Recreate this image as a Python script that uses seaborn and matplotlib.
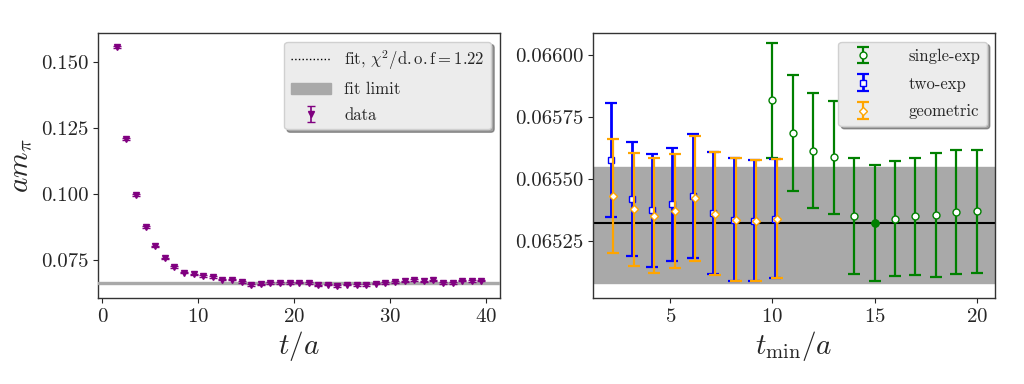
import numpy as np
import pandas as pd
import matplotlib
matplotlib.use("Agg")
import matplotlib.pyplot as plt
import seaborn as sns
from matplotlib.ticker import FixedLocator, FormatStrFormatter

# left panel: effective mass vs t
t_eff = np.arange(1.5, 40.0, 1.0)
m_eff = [0.1557, 0.1207, 0.0994, 0.0874, 0.0800, 0.0755, 0.0722, 0.0701, 0.0694, 0.0687,
         0.0684, 0.0674, 0.0674, 0.0664, 0.0654, 0.0656, 0.0661, 0.0661, 0.0661, 0.0663,
         0.0661, 0.0652, 0.0655, 0.0651, 0.0655, 0.0653, 0.0653, 0.0659, 0.0662, 0.0665,
         0.0667, 0.0672, 0.0667, 0.0671, 0.0662, 0.0662, 0.0670, 0.0669, 0.0670]
m_eff_err = [0.0003] * len(m_eff)
fit_left = 0.0661
fit_left_err = 0.00028

# right panel: fitted mass vs t_min
tmin_single = [10, 11, 12, 13, 14, 15, 16, 17, 18, 19, 20]
m_single = [0.065817, 0.065685, 0.065613, 0.065587, 0.065350, 0.065324, 0.065340,
            0.065350, 0.065355, 0.065367, 0.065370]
err_single = [0.000232, 0.000234, 0.000232, 0.000228, 0.000234, 0.000234, 0.000232,
              0.000236, 0.000250, 0.000249, 0.000248]

tmin_two = [2, 3, 4, 5, 6, 7, 8, 9, 10]
m_two = [0.065575, 0.065417, 0.065373, 0.065398, 0.065431, 0.065363, 0.065336, 0.065332, 0.065340]
err_two = [0.000230, 0.000230, 0.000228, 0.000228, 0.000250, 0.000247, 0.000248, 0.000245, 0.000240]

tmin_geo = [2, 3, 4, 5, 6, 7, 8, 9, 10]
m_geo = [0.065431, 0.065377, 0.065352, 0.065370, 0.065421, 0.065360, 0.065336, 0.065332, 0.065340]
err_geo = [0.000231, 0.000229, 0.000232, 0.000230, 0.000252, 0.000247, 0.000248, 0.000245, 0.000240]

fit_right = 0.065324
band_lo, band_hi = 0.065080, 0.065550

sns.set_style("ticks")
plt.rcParams["font.family"] = "serif"
plt.rcParams["font.serif"] = ["cmr10"]
plt.rcParams["mathtext.fontset"] = "cm"
plt.rcParams["axes.formatter.use_mathtext"] = True
plt.rcParams["axes.edgecolor"] = "#333333"
plt.rcParams["axes.linewidth"] = 1.0

df_eff = pd.DataFrame({"t": t_eff, "m": m_eff, "err": m_eff_err})

fig = plt.figure(figsize=(10.24, 3.84), dpi=100)
ax1 = fig.add_axes([0.096, 0.223, 0.392, 0.690])
ax2 = fig.add_axes([0.579, 0.223, 0.393, 0.690])

# left
ax1.axhline(fit_left, color="black", ls=":", lw=1.0, label=r"fit, $\chi^2/\mathrm{d.o.f} = 1.22$", zorder=2)
ax1.axhspan(fit_left - fit_left_err, fit_left + fit_left_err, color="darkgray", label="fit limit", zorder=3)
ax1.errorbar(df_eff["t"], df_eff["m"], yerr=df_eff["err"], fmt="v", color="purple",
             ms=5, capsize=3, elinewidth=1.2, label="data", zorder=4)
ax1.set_xlim(-0.42, 41.4)
ax1.set_ylim(0.0603, 0.1608)
ax1.xaxis.set_major_locator(FixedLocator([0, 10, 20, 30, 40]))
ax1.yaxis.set_major_locator(FixedLocator([0.075, 0.100, 0.125, 0.150]))
ax1.yaxis.set_major_formatter(FormatStrFormatter("%.3f"))
ax1.set_xlabel(r"$t/a$", fontsize=21, labelpad=2)
ax1.set_ylabel(r"$am_\pi$", fontsize=21, labelpad=4)
ax1.tick_params(labelsize=15)
ax1.legend(loc="upper right", fontsize=12, shadow=True, facecolor="#ececec", framealpha=1,
           edgecolor="#d0d0d0", handlelength=2.4, labelspacing=0.6)

# right
ax2.axhspan(band_lo, band_hi, color="darkgray", zorder=1)
ax2.axhline(fit_right, color="black", lw=1.5, zorder=2)
ax2.errorbar(tmin_single, m_single, yerr=err_single, fmt="o", color="green", mfc="white",
             mec="green", ms=5, capsize=4, elinewidth=1.6, capthick=1.6, label="single-exp", zorder=3)
ax2.plot(tmin_single[5], m_single[5], "o", color="green", ms=5, zorder=4)
ax2.errorbar(np.array(tmin_two) + 0.1, m_two, yerr=err_two, fmt="s", color="blue", mfc="white",
             mec="blue", ms=5, capsize=4, elinewidth=2.0, capthick=1.6, label="two-exp", zorder=3)
ax2.errorbar(np.array(tmin_geo) + 0.2, m_geo, yerr=err_geo, fmt="D", color="orange", mfc="white",
             mec="orange", ms=4.5, capsize=4, elinewidth=1.6, capthick=1.6, label="geometric", zorder=4)
ax2.set_xlim(1.2, 20.92)
ax2.set_ylim(0.065018, 0.066087)
ax2.xaxis.set_major_locator(FixedLocator([5, 10, 15, 20]))
ax2.yaxis.set_major_locator(FixedLocator([0.06525, 0.06550, 0.06575, 0.06600]))
ax2.yaxis.set_major_formatter(FormatStrFormatter("%.5f"))
ax2.set_xlabel(r"$t_{\rm min}/a$", fontsize=21, labelpad=2)
ax2.tick_params(labelsize=15)
ax2.legend(loc="upper right", fontsize=12, shadow=True, facecolor="#ececec", framealpha=1,
           edgecolor="#d0d0d0", handlelength=2.2, labelspacing=0.75, handletextpad=1.6)

fig.savefig("out.png", dpi=100)
